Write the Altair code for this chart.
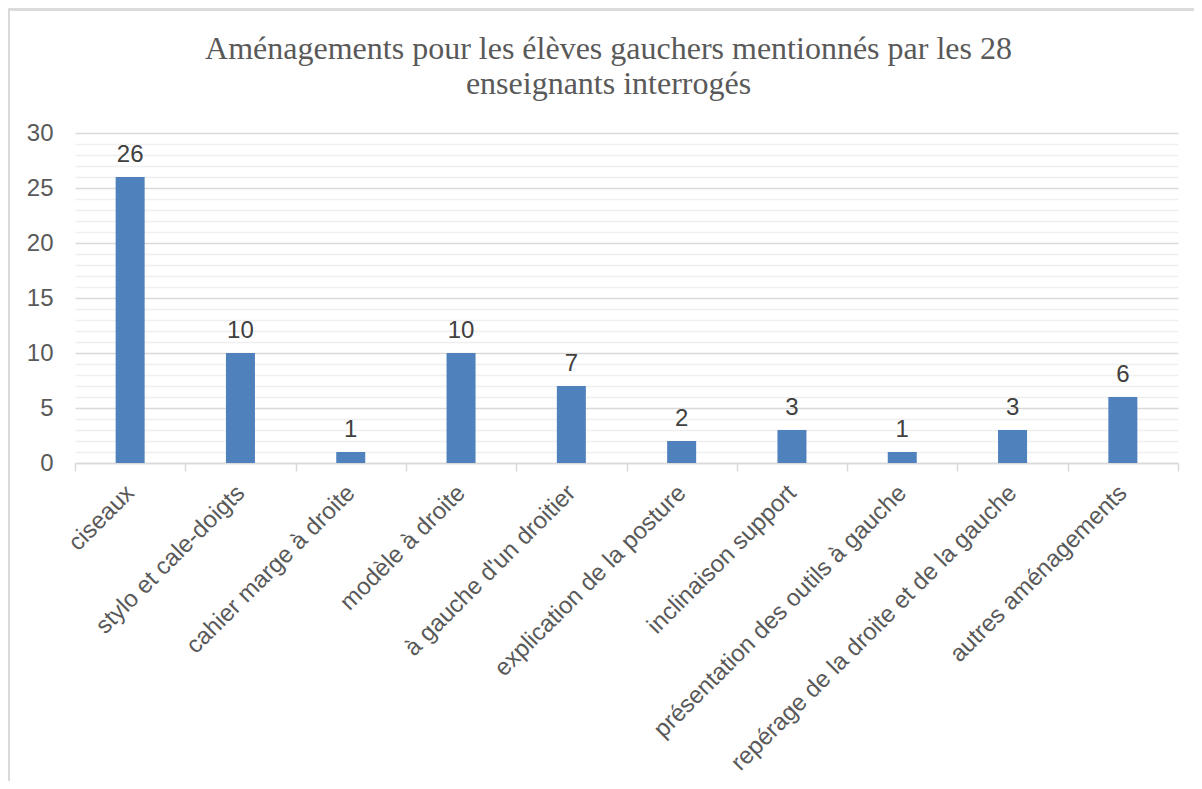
import altair as alt
import pandas as pd

categories = [
    "ciseaux",
    "stylo et cale-doigts",
    "cahier marge à droite",
    "modèle à droite",
    "à gauche d'un droitier",
    "explication de la posture",
    "inclinaison support",
    "présentation des outils à gauche",
    "repérage de la droite et de la gauche",
    "autres aménagements",
]
counts = [26, 10, 1, 10, 7, 2, 3, 1, 3, 6]
y_ticks = list(range(0, 31))

df = pd.DataFrame({"cat": categories, "n": counts})

FONT = "Liberation Sans"
GRAY = "#595959"

x_enc = alt.X(
    "cat:N",
    sort=categories,
    scale=alt.Scale(paddingInner=0, paddingOuter=0),
    axis=alt.Axis(
        title=None,
        labelAngle=-45,
        labelAlign="right",
        labelBaseline="middle",
        labelFont=FONT,
        labelFontSize=24,
        labelColor=GRAY,
        labelPadding=18,
        labelLimit=600,
        labelOverlap=False,
        tickBand="extent",
        tickColor="#d9d9d9",
        tickSize=8,
        tickWidth=1.5,
        domainColor="#d9d9d9",
        domainWidth=1.5,
        grid=False,
    ),
)
y_enc = alt.Y(
    "n:Q",
    scale=alt.Scale(domain=[0, 30], nice=False),
    axis=alt.Axis(
        title=None,
        values=y_ticks,
        tickCount=31,
        labelExpr="datum.value % 5 === 0 ? datum.label : ''",
        labelOverlap=False,
        labelFont=FONT,
        labelFontSize=24,
        labelColor=GRAY,
        labelPadding=22,
        ticks=False,
        domain=False,
        grid=True,
        gridColor={"condition": {"test": "datum.value % 5 === 0", "value": "#d9d9d9"}, "value": "#efefef"},
        gridWidth=1.3,
    ),
)

bars = alt.Chart(df).mark_bar(
    color="#4f81bd", width=alt.RelativeBandSize(0.263)
).encode(x=x_enc, y=y_enc)

labels = alt.Chart(df).mark_text(
    font=FONT, fontSize=24, color="#404040", baseline="alphabetic", dy=-15
).encode(x=alt.X("cat:N", sort=categories), y="n:Q", text="n:Q")

frame_top = alt.Chart(df).mark_rule(color="#d9d9d9", strokeWidth=1.5).encode(
    x=alt.value(-66.5), x2=alt.value(1130), y=alt.value(-123.5)
)
frame_left = alt.Chart(df).mark_rule(color="#d9d9d9", strokeWidth=1.5).encode(
    x=alt.value(-66.5), y=alt.value(-123.5), y2=alt.value(700)
)

chart = (
    alt.layer(bars, labels, frame_top, frame_left)
    .properties(
        width=1103,
        height=330,
        autosize=alt.AutoSizeParams(type="none"),
        padding={"left": 67, "top": 125, "right": 16, "bottom": 318},
        title=alt.TitleParams(
            ["Aménagements pour les élèves gauchers mentionnés par les 28", "enseignants interrogés"],
            font="Liberation Serif",
            fontSize=32,
            fontWeight="normal",
            color=GRAY,
            anchor="middle",
            frame="group",
            dx=-18,
            dy=92,
            lineHeight=35,
            offset=0,
        ),
    )
    .configure_view(stroke=None)
)

chart.save("out.html", embed_options={"renderer": "svg", "actions": False})
